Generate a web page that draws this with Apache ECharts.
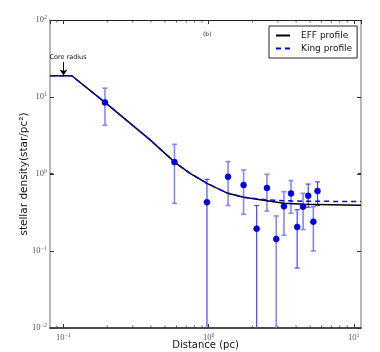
<!DOCTYPE html>
<html>
<head>
<meta charset="utf-8">
<script src="https://cdn.jsdelivr.net/npm/echarts@6/dist/echarts.min.js"></script>
<style>
  html, body { margin: 0; padding: 0; background: #fff; }
  #chart { width: 380px; height: 352px; }
</style>
</head>
<body>
<div id="chart"></div>
<script>
// radial profile: distance (pc) vs stellar density (star/pc^2)
const distance = [0.193, 0.581, 0.973, 1.36, 1.74, 2.14, 2.52, 2.92, 3.30, 3.69, 4.07, 4.47, 4.85, 5.26, 5.62];
const density  = [8.5, 1.43, 0.43, 0.92, 0.72, 0.195, 0.66, 0.143, 0.38, 0.56, 0.205, 0.376, 0.52, 0.24, 0.60];
const errUpper = [13.0, 2.43, 0.853, 1.45, 1.13, 0.39, 0.99, 0.285, 0.59, 0.82, 0.344, 0.56, 0.74, 0.377, 0.79];
// 0 means the lower end of the bar falls below the plot
const errLower = [4.3, 0.416, 0, 0.39, 0.30, 0, 0.33, 0, 0.16, 0.31, 0.06, 0.19, 0.37, 0.10, 0.39];

const effDist     = [0.0807, 0.114, 0.193, 0.395, 0.581, 0.745, 0.973, 1.355, 1.738, 2.52, 3.30, 4.51, 11.2];
const effDensity  = [18.9, 18.9, 8.53, 2.77, 1.43, 1.02, 0.757, 0.561, 0.498, 0.45, 0.416, 0.404, 0.392];
const kingDist    = [0.0807, 0.114, 0.193, 0.395, 0.581, 0.745, 0.973, 1.355, 1.738, 2.52, 3.30, 4.51, 11.2];
const kingDensity = [18.9, 18.9, 8.53, 2.77, 1.43, 1.02, 0.757, 0.561, 0.50, 0.463, 0.45, 0.442, 0.44];

const xMinorTicks = [0.09, 0.2, 0.3, 0.4, 0.5, 0.6, 0.7, 0.8, 0.9, 2, 3, 4, 5, 6, 7, 8, 9];
const yDecades = [0.01, 0.1, 1, 10];
const yMultiples = [2, 3, 4, 5, 6, 7, 8, 9];

const coreRadius = 0.1;
const coreArrowTop = 28.5;
const coreArrowTip = 19;

// bars drawn in the darker blue
const darkBars = [2, 5, 10, 12, 14];

const yMinorTicks = [];
yDecades.forEach(d => yMultiples.forEach(m => yMinorTicks.push(+(d * m).toPrecision(3))));

const chart = echarts.init(document.getElementById("chart"));

function powLabel(value) {
  const e = Math.round(Math.log10(value));
  return "{b|10}{e|" + (e < 0 ? "\u2212" + (-e) : e) + "}";
}

const labelRich = {
  b: { fontFamily: "Liberation Serif", fontSize: 8.5, color: "#555" },
  e: { fontFamily: "Liberation Serif", fontSize: 6, color: "#555", padding: [0, 0, 5, 0] },
};

function minorTicks(isX) {
  return function (params, api) {
    const cs = params.coordSys;
    const v = api.value(0);
    const len = 2.5;
    const style = { stroke: "#333", lineWidth: 0.8 };
    if (isX) {
      const x = api.coord([v, 1])[0];
      return {
        type: "group",
        children: [
          { type: "line", shape: { x1: x, y1: cs.y + cs.height, x2: x, y2: cs.y + cs.height - len }, style },
          { type: "line", shape: { x1: x, y1: cs.y, x2: x, y2: cs.y + len }, style },
        ],
      };
    }
    const y = api.coord([1, v])[1];
    return {
      type: "group",
      children: [
        { type: "line", shape: { x1: cs.x, y1: y, x2: cs.x + len, y2: y }, style },
        { type: "line", shape: { x1: cs.x + cs.width, y1: y, x2: cs.x + cs.width - len, y2: y }, style },
      ],
    };
  };
}

function errorBar(params, api) {
  const cs = params.coordSys;
  const xv = api.value(0);
  const x = api.coord([xv, api.value(1)])[0];
  const top = api.coord([xv, api.value(2)])[1];
  const lo = api.value(3);
  const bottom = lo > 0 ? api.coord([xv, lo])[1] : cs.y + cs.height + 2;
  const dark = darkBars.indexOf(params.dataIndex) >= 0;
  const style = { stroke: dark ? "#4646ff" : "#8585ff", lineWidth: dark ? 1.2 : 1.6 };
  const cap = 2.5;
  const children = [
    { type: "line", shape: { x1: x, y1: top, x2: x, y2: bottom }, style },
    { type: "line", shape: { x1: x - cap, y1: top, x2: x + cap, y2: top }, style },
  ];
  if (lo > 0) {
    children.push({ type: "line", shape: { x1: x - cap, y1: bottom, x2: x + cap, y2: bottom }, style });
  }
  return { type: "group", children };
}

const option = {
  animation: false,
  backgroundColor: "#fff",
  title: {
    text: "(b)",
    left: 198,
    top: 26,
    textStyle: { fontSize: 6, fontWeight: "normal", color: "#222", fontFamily: "DejaVu Sans" },
  },
  legend: {
    data: [
      { name: "EFF profile", icon: "path://M0,0h14v2h-14z" },
      { name: "King profile", icon: "path://M0,0h5v2h-5z M9,0h5v2h-5z" },
    ],
    orient: "vertical",
    left: 269,
    top: 26,
    padding: [5, 5, 5, 7],
    itemGap: 4,
    itemWidth: 14,
    itemHeight: 2,
    borderColor: "#222",
    borderWidth: 1,
    borderRadius: 0,
    backgroundColor: "#fff",
    textStyle: { fontFamily: "DejaVu Sans", fontSize: 9, color: "#111", padding: [0, 0, 0, 6] },
  },
  grid: { left: 50, top: 20, right: 19, bottom: 24, outerBoundsMode: "none" },
  xAxis: [
    {
      type: "log",
      logBase: 10,
      min: 0.0807,
      max: 11.2,
      name: "Distance (pc)",
      nameLocation: "middle",
      nameGap: 12,
      nameMoveOverlap: false,
      nameTextStyle: { fontFamily: "DejaVu Sans", fontSize: 10, color: "#111" },
      axisLine: { lineStyle: { color: "#111", width: 1.5 } },
      axisTick: { inside: true, length: 4, lineStyle: { color: "#333" } },
      axisLabel: { margin: 4, formatter: powLabel, rich: labelRich, showMinLabel: false, showMaxLabel: false },
      splitLine: { show: false },
    },
    {
      type: "log",
      logBase: 10,
      min: 0.0807,
      max: 11.2,
      position: "top",
      axisLine: { lineStyle: { color: "#222", width: 1 } },
      axisTick: { inside: true, length: 4, lineStyle: { color: "#333" } },
      axisLabel: { show: false },
      splitLine: { show: false },
    },
  ],
  yAxis: [
    {
      type: "log",
      logBase: 10,
      min: 0.01,
      max: 100,
      name: "stellar density(star/pc\u00b2)",
      nameLocation: "middle",
      nameGap: 20,
      nameMoveOverlap: false,
      nameTextStyle: { fontFamily: "DejaVu Sans", fontSize: 10.5, color: "#111" },
      axisLine: { lineStyle: { color: "#a0a0a0", width: 1.5 } },
      axisTick: { inside: true, length: 4, lineStyle: { color: "#333" } },
      axisLabel: { margin: 3, formatter: powLabel, rich: labelRich },
      splitLine: { show: false },
    },
    {
      type: "log",
      logBase: 10,
      min: 0.01,
      max: 100,
      position: "right",
      axisLine: { lineStyle: { color: "#a0a0a0", width: 1.5 } },
      axisTick: { inside: true, length: 4, lineStyle: { color: "#333" } },
      axisLabel: { show: false },
      splitLine: { show: false },
    },
  ],
  series: [
    {
      type: "custom",
      name: "xminor",
      renderItem: minorTicks(true),
      data: xMinorTicks.map(v => [v, 1]),
      silent: true,
      z: 1,
    },
    {
      type: "custom",
      name: "yminor",
      renderItem: minorTicks(false),
      data: yMinorTicks.map(v => [1, v]),
      silent: true,
      z: 1,
    },
    {
      type: "custom",
      name: "errors",
      renderItem: errorBar,
      clip: true,
      encode: { x: 0, y: 1 },
      data: distance.map((d, i) => [d, density[i], errUpper[i], errLower[i]]),
      z: 2,
    },
    {
      type: "line",
      name: "EFF profile",
      data: effDist.map((d, i) => [d, effDensity[i]]),
      showSymbol: false,
      symbol: "none",
      lineStyle: { color: "#000", width: 1.5 },
      itemStyle: { color: "#000" },
      z: 3,
      markLine: {
        silent: true,
        symbol: ["none", "arrow"],
        symbolSize: 6,
        lineStyle: { color: "#000", width: 1, type: "solid" },
        label: {
          show: true,
          position: "start",
          formatter: "Core radius",
          fontSize: 6.5,
          color: "#111",
          fontFamily: "DejaVu Sans",
          distance: 1,
          padding: [0, 0, 0, 9],
        },
        data: [[{ coord: [coreRadius, coreArrowTop] }, { coord: [coreRadius, coreArrowTip] }]],
      },
    },
    {
      type: "line",
      name: "King profile",
      data: kingDist.map((d, i) => [d, kingDensity[i]]),
      showSymbol: false,
      symbol: "none",
      lineStyle: { color: "#0000ff", width: 1.5, type: [5, 4] },
      itemStyle: { color: "#0000ff" },
      z: 4,
    },
    {
      type: "scatter",
      name: "data",
      data: distance.map((d, i) => [d, density[i]]),
      symbolSize: 6,
      itemStyle: { color: "#0000ee", borderColor: "#000080", borderWidth: 0.5, opacity: 1 },
      z: 5,
    },
  ],
};

chart.setOption(option);
</script>
</body>
</html>
